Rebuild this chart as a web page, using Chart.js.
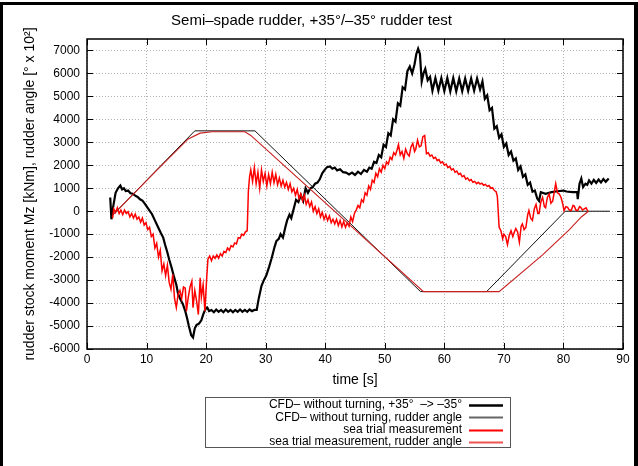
<!DOCTYPE html>
<html>
<head>
<meta charset="utf-8">
<script src="https://cdn.jsdelivr.net/npm/chart.js@4.4.0/dist/chart.umd.min.js"></script>
<style>
  html, body { margin: 0; padding: 0; background: #fff; }
  #wrap { position: relative; width: 638px; height: 466px; overflow: hidden; }
  #wrap canvas { position: absolute; left: 0; top: 0; }
  #frame { position: absolute; left: 0; top: 2px; width: 638px; height: 480px; box-sizing: border-box;
           border: 3px solid #000; border-right-width: 4px; pointer-events: none; }
</style>
</head>
<body>
<div id="wrap">
  <canvas id="chart" width="638" height="466"></canvas>
  <div id="frame"></div>
</div>
<script>
  // ---- ticks / labels ----
  const xTicks = [0, 10, 20, 30, 40, 50, 60, 70, 80, 90];
  const yTicks = [-6000, -5000, -4000, -3000, -2000, -1000, 0, 1000, 2000, 3000, 4000, 5000, 6000, 7000];
  const seriesNames = [
    "CFD– without turning, +35°  –> –35°",
    "CFD– without turning, rudder angle",
    "sea trial measurement",
    "sea trial measurement, rudder angle"
  ];

  // ---- series, [time s, value] ----
  const cfdMoment = [
    [3.9, 600], [4.1, -350], [4.4, 200], [4.8, 800], [5.2, 1000], [5.6, 1120], [5.9, 950], [6.2, 1000],
    [6.5, 880], [6.9, 900], [7.3, 780], [7.7, 760], [8.1, 680], [8.5, 620], [8.9, 520], [9.3, 460],
    [9.7, 330], [10.1, 180], [10.5, 30], [10.9, -120], [11.4, -400], [11.9, -680], [12.4, -950],
    [12.8, -1150], [13.1, -1450], [13.5, -1800], [13.8, -2100], [14.2, -2450], [14.6, -2850],
    [15.0, -3200], [15.3, -3600], [15.7, -3850], [16.1, -4050], [16.5, -4350], [16.8, -4650],
    [17.1, -5000], [17.5, -5400], [17.8, -5500], [18.1, -5100], [18.4, -4950], [18.8, -4900],
    [19.2, -4750], [19.5, -4500], [19.9, -4250], [20.2, -4200], [20.5, -4350], [20.9, -4300],
    [21.3, -4400], [21.7, -4280], [22.1, -4380], [22.5, -4300], [22.9, -4400], [23.3, -4280],
    [23.7, -4380], [24.1, -4300], [24.5, -4400], [24.9, -4300], [25.3, -4380], [25.7, -4280],
    [26.1, -4380], [26.5, -4300], [26.9, -4380], [27.3, -4280], [27.7, -4350], [28.1, -4300],
    [28.5, -4300], [28.8, -3850], [29.3, -3250], [29.7, -3000], [30.1, -2800], [30.6, -2400],
    [31.0, -2050], [31.5, -1550], [31.8, -1300], [32.2, -1200], [32.5, -1000], [32.9, -1150],
    [33.3, -700], [33.6, -400], [34.0, -150], [34.3, -300], [34.7, 100], [35.1, 500], [35.5, 400],
    [35.9, 700], [36.3, 450], [36.7, 1000], [37.1, 800], [37.5, 1000], [37.9, 1050], [38.3, 1200],
    [38.7, 1250], [39.1, 1400], [39.5, 1650], [39.9, 1800], [40.3, 1920], [40.8, 1950], [41.2, 1850],
    [41.6, 1900], [42.0, 1780], [42.5, 1830], [43.0, 1700], [43.5, 1680], [44.0, 1600], [44.5, 1680],
    [45.0, 1580], [45.5, 1720], [46.0, 1620], [46.5, 1800], [47.0, 1720], [47.4, 1900], [47.8, 1850],
    [48.2, 2150], [48.6, 2100], [49.0, 2450], [49.4, 2350], [49.8, 2900], [50.2, 2800], [50.6, 3400],
    [51.0, 3300], [51.4, 4000], [51.8, 3900], [52.2, 4700], [52.6, 4600], [53.0, 5400], [53.4, 5300],
    [53.8, 6100], [54.2, 6300], [54.6, 6000], [55.0, 6400], [55.3, 6850], [55.6, 7080], [55.9, 6850],
    [56.2, 5650], [56.5, 6000], [56.8, 6200], [57.2, 5700], [57.6, 5850], [58.0, 5250], [58.5, 5800],
    [59.0, 5250], [59.5, 5800], [60.0, 5230], [60.5, 5800], [61.0, 5220], [61.5, 5800], [62.0, 5220],
    [62.5, 5780], [63.0, 5230], [63.5, 5780], [64.0, 5240], [64.5, 5780], [65.0, 5250], [65.5, 5780],
    [66.0, 5300], [66.4, 5650], [66.8, 4900], [67.2, 5050], [67.6, 4400], [68.0, 4500], [68.4, 3600],
    [68.8, 3700], [69.2, 3200], [69.6, 3350], [70.0, 2800], [70.4, 2950], [70.8, 2450], [71.2, 2600],
    [71.6, 2200], [72.0, 2300], [72.4, 1800], [72.8, 1950], [73.2, 1500], [73.6, 1600], [74.0, 1150],
    [74.4, 1250], [74.8, 850], [75.2, 900], [75.6, 550], [75.9, 450], [76.2, 830], [77.0, 760],
    [78.0, 830], [79.0, 870], [80.0, 900], [80.5, 860], [81.5, 830], [82.3, 830], [82.4, 530],
    [82.7, 1200], [83.0, 1420], [83.3, 1050], [83.7, 1200], [84.0, 1150], [84.3, 1340], [84.7, 1200],
    [85.1, 1360], [85.5, 1230], [85.9, 1380], [86.3, 1250], [86.7, 1400], [87.1, 1280], [87.6, 1420]
  ];

  const cfdAngle = [
    [4.0, -250], [18.1, 3500], [28.2, 3500], [56.0, -3500], [67.1, -3500], [80.3, 0], [87.8, 0]
  ];

  const seaMoment = [
    [4.3, -300], [4.5, 100], [4.8, -50], [5.1, 150], [5.4, -100], [5.7, 50], [6.0, -150], [6.3, 50],
    [6.6, -100], [6.9, -20], [7.2, -250], [7.5, -100], [7.8, -300], [8.1, -120], [8.4, -350],
    [8.7, -250], [9.0, -480], [9.3, -300], [9.6, -600], [9.9, -500], [10.2, -800], [10.5, -700],
    [10.8, -1100], [11.1, -1000], [11.4, -1600], [11.7, -1400], [12.0, -2000], [12.3, -1700],
    [12.6, -2600], [12.9, -2300], [13.2, -2800], [13.5, -2350], [13.8, -3100], [14.1, -3400],
    [14.4, -2750], [14.7, -3800], [15.0, -4200], [15.3, -3600], [15.6, -3450], [15.9, -3800],
    [16.2, -3300], [16.5, -3350], [16.7, -4350], [17.0, -3750], [17.3, -3300], [17.6, -3050],
    [17.8, -4200], [18.1, -3450], [18.4, -3900], [18.7, -4500], [19.0, -2900], [19.2, -3750],
    [19.5, -3200], [19.8, -4350], [20.1, -2900], [20.3, -2100], [20.6, -1950], [20.9, -2150],
    [21.2, -1950], [21.5, -2050], [21.8, -1900], [22.1, -2050], [22.4, -1850], [22.7, -1950],
    [23.0, -1750], [23.3, -1800], [23.6, -1600], [23.9, -1700], [24.2, -1500], [24.5, -1550],
    [24.8, -1380], [25.1, -1420], [25.4, -1150], [25.7, -1180], [26.0, -1000], [26.3, -1050],
    [26.6, -900], [26.9, -850], [27.1, 900], [27.3, 1500], [27.5, 1800], [27.8, 1300], [28.1, 1900],
    [28.4, 1200], [28.7, 1700], [29.0, 1000], [29.3, 1800], [29.6, 1300], [29.9, 1650], [30.2, 1100],
    [30.5, 1600], [30.8, 1200], [31.1, 1700], [31.4, 1250], [31.7, 1600], [32.0, 1150], [32.3, 1450],
    [32.6, 1100], [32.9, 1350], [33.2, 1050], [33.5, 1250], [33.8, 950], [34.1, 1200], [34.4, 850],
    [34.7, 1000], [35.0, 700], [35.3, 950], [35.6, 550], [35.9, 750], [36.2, 450], [36.5, 700],
    [36.8, 300], [37.1, 500], [37.4, 200], [37.7, 400], [38.0, 0], [38.3, 200], [38.6, -100],
    [38.9, 100], [39.2, -250], [39.5, -50], [39.8, -350], [40.1, -150], [40.4, -400], [40.7, -200],
    [41.0, -500], [41.3, -350], [41.6, -550], [41.9, -350], [42.2, -620], [42.5, -400], [42.8, -680],
    [43.1, -450], [43.4, -700], [43.7, -500], [44.0, -650], [44.3, -250], [44.6, -450], [44.9, -100],
    [45.2, 50], [45.5, 250], [45.8, 150], [46.1, 500], [46.4, 400], [46.7, 800], [47.0, 700],
    [47.3, 1100], [47.6, 950], [47.9, 1350], [48.2, 1250], [48.5, 1650], [48.8, 1500], [49.1, 1850],
    [49.4, 1700], [49.7, 2000], [50.0, 1850], [50.3, 2150], [50.6, 2050], [50.9, 2350], [51.2, 2250],
    [51.5, 2550], [51.8, 2450], [52.1, 2700], [52.3, 2900], [52.6, 2450], [52.9, 2600], [53.2, 2300],
    [53.5, 2700], [53.8, 2500], [54.1, 2400], [54.4, 2800], [54.7, 2950], [55.0, 2600], [55.2, 2700],
    [55.5, 3100], [55.8, 2800], [56.1, 2850], [56.4, 3250], [56.7, 3300], [57.0, 2500], [57.3, 2550],
    [57.6, 2400], [57.9, 2450], [58.2, 2300], [58.5, 2350], [58.8, 2200], [59.1, 2250], [59.4, 2100],
    [59.7, 2150], [60.0, 2000], [60.3, 2050], [60.6, 1900], [60.9, 1950], [61.2, 1800], [61.5, 1850],
    [61.8, 1700], [62.1, 1750], [62.4, 1600], [62.7, 1650], [63.0, 1500], [63.3, 1550], [63.6, 1400],
    [63.9, 1450], [64.2, 1330], [64.5, 1380], [64.8, 1260], [65.1, 1300], [65.4, 1200], [65.7, 1260],
    [66.0, 1180], [66.3, 1220], [66.6, 1130], [66.9, 1170], [67.2, 1080], [67.5, 1120], [67.8, 1000],
    [68.1, 1030], [68.4, 900], [68.7, 850], [68.9, 650], [69.2, -700], [69.5, -850], [69.8, -1200],
    [70.0, -1000], [70.3, -1100], [70.6, -1450], [70.9, -1050], [71.2, -850], [71.5, -1100],
    [71.7, -950], [72.0, -750], [72.3, -900], [72.6, -1350], [72.9, -650], [73.1, -550], [73.4, -800],
    [73.7, -700], [74.0, -150], [74.2, 30], [74.5, -300], [74.8, -400], [75.1, 100], [75.4, 300],
    [75.7, -100], [75.9, -100], [76.2, 400], [76.5, 600], [76.8, 200], [77.0, 150], [77.3, 600],
    [77.6, 750], [77.9, 350], [78.2, 450], [78.5, 900], [78.7, 1200], [79.0, 800], [79.3, 750],
    [79.6, 600], [79.9, 300], [80.1, 30], [80.4, 200], [80.7, 170], [81.0, 50], [81.3, 30],
    [81.6, 250], [81.8, 230], [82.1, 50], [82.4, 30], [82.7, 200], [82.9, 170], [83.2, 50],
    [83.5, 100], [83.8, 150], [84.1, 0]
  ];

  const seaAngle = [
    [4.4, -150], [11.7, 1780], [17.0, 3150], [19.0, 3400], [21.0, 3460], [26.5, 3460], [27.5, 3300],
    [56.5, -3500], [69.2, -3500], [76.5, -1900], [81.0, -800], [83.0, -250], [84.2, 0]
  ];

  const pts = arr => arr.map(p => ({ x: p[0], y: p[1] }));

  Chart.defaults.font.family = '"Liberation Sans", Arial, Helvetica, sans-serif';
  Chart.defaults.color = '#000';

  // gnuplot style: border box, inward ticks on all sides, boxed legend below
  const gnuFrame = {
    id: 'gnuFrame',
    afterDatasetsDraw(chart) {
      const { ctx, chartArea: a, scales: { x, y } } = chart;
      ctx.save();
      ctx.strokeStyle = '#000';
      ctx.lineWidth = 1;
      ctx.beginPath();
      xTicks.forEach(v => {
        const px = Math.round(x.getPixelForValue(v)) + 0.5;
        ctx.moveTo(px, a.bottom); ctx.lineTo(px, a.bottom - 6);
        ctx.moveTo(px, a.top); ctx.lineTo(px, a.top + 6);
      });
      yTicks.forEach(v => {
        const py = Math.round(y.getPixelForValue(v)) + 0.5;
        ctx.moveTo(a.left, py); ctx.lineTo(a.left + 6, py);
        ctx.moveTo(a.right, py); ctx.lineTo(a.right - 6, py);
      });
      ctx.stroke();
      ctx.lineWidth = 1.5;
      ctx.strokeRect(a.left, a.top, a.right - a.left, a.bottom - a.top);
      ctx.restore();
    },
    afterDraw(chart) {
      const { ctx } = chart;
      ctx.save();
      ctx.strokeStyle = '#555';
      ctx.lineWidth = 1;
      ctx.strokeRect(205.5, 397.5, 305, 50);
      ctx.font = '12px "Liberation Sans", Arial, sans-serif';
      ctx.textAlign = 'right';
      ctx.textBaseline = 'middle';
      chart.data.datasets.forEach((ds, i) => {
        const yy = 405 + i * 12.3;
        ctx.fillStyle = '#000';
        ctx.fillText(ds.label, 462, yy);
        ctx.strokeStyle = ds.legendColor || ds.borderColor;
        ctx.lineWidth = ds.legendWidth || ds.borderWidth;
        ctx.beginPath();
        ctx.moveTo(469, Math.round(yy) + 0.5);
        ctx.lineTo(503, Math.round(yy) + 0.5);
        ctx.stroke();
      });
      ctx.restore();
    }
  };

  new Chart(document.getElementById('chart'), {
    type: 'line',
    data: {
      datasets: [
        { label: seriesNames[0], data: pts(cfdMoment), borderColor: '#000', borderWidth: 2.2, legendWidth: 2.5, order: 4 },
        { label: seriesNames[1], data: pts(cfdAngle), borderColor: '#111', borderWidth: 1, legendColor: '#666', legendWidth: 2, order: 3 },
        { label: seriesNames[2], data: pts(seaMoment), borderColor: '#f00', borderWidth: 1.5, legendWidth: 2, order: 2 },
        { label: seriesNames[3], data: pts(seaAngle), borderColor: '#c81e1e', borderWidth: 1.1, legendColor: '#e55', legendWidth: 2, order: 1 }
      ]
    },
    options: {
      responsive: false,
      animation: false,
      devicePixelRatio: 1,
      elements: { point: { radius: 0 }, line: { tension: 0 } },
      layout: { padding: { left: 0, right: 15, top: 0, bottom: 75 } },
      plugins: {
        legend: { display: false },
        tooltip: { enabled: false },
        title: {
          display: true,
          text: 'Semi–spade rudder, +35°/–35° rudder test',
          color: '#000',
          font: { size: 15, weight: 'normal' },
          padding: { top: 12, bottom: 9 }
        }
      },
      scales: {
        x: {
          type: 'linear',
          min: 0, max: 90,
          afterBuildTicks: s => { s.ticks = xTicks.map(v => ({ value: v })); },
          afterFit: s => { s.height = 42; },
          grid: { color: '#b0b0b0', drawTicks: false },
          border: { display: false, dash: [1, 2] },
          ticks: { padding: 3, font: { size: 12 }, maxRotation: 0, callback: v => String(v) },
          title: { display: true, text: 'time [s]', font: { size: 14 }, padding: { top: 0, bottom: 2 } }
        },
        y: {
          type: 'linear',
          min: -6000, max: 7500,
          afterBuildTicks: s => { s.ticks = yTicks.map(v => ({ value: v })); },
          afterFit: s => { s.width = 87; },
          grid: { color: '#b0b0b0', drawTicks: false },
          border: { display: false, dash: [1, 2] },
          ticks: { padding: 7, font: { size: 12 }, callback: v => String(v) },
          title: { display: true, text: 'rudder stock moment Mz [kNm], rudder angle [° x 10²]', font: { size: 14 }, padding: { top: 22, bottom: 0 } }
        }
      }
    },
    plugins: [gnuFrame]
  });
</script>
</body>
</html>
